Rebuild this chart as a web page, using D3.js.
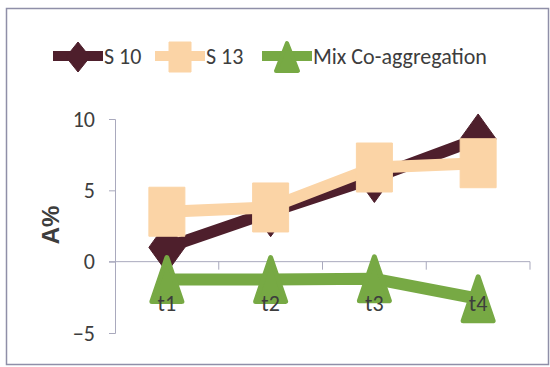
<!DOCTYPE html>
<html>
<head>
<meta charset="utf-8">
<script src="https://cdn.jsdelivr.net/npm/d3@7"></script>
<style>
  html, body { margin: 0; padding: 0; background: #fff; }
  svg { display: block; }
  text { font-family: Carlito, "Liberation Sans Narrow", "DejaVu Sans Condensed", sans-serif; fill: #3d3d3d; }
</style>
</head>
<body>
<svg id="chart" width="550" height="367"></svg>
<script>
// Time points and co-aggregation values (A%)
const categories = ["t1", "t2", "t3", "t4"];
const s10 = [1.0, 3.5, 5.9, 8.6];
const s13 = [3.5, 3.8, 6.6, 6.9];
const mix = [-1.25, -1.25, -1.2, -2.6];
const yTicks = [-5, 0, 5, 10];
const seriesNames = ["S 10", "S 13", "Mix Co-aggregation"];

const colors = ["#4e1f2c", "#fbd4a6", "#77a944"];
const shapes = ["diamond", "square", "triangle"];
const seriesValues = [s10, s13, mix];

const svg = d3.select("#chart");

// frame
svg.append("rect")
  .attr("x", 6.5).attr("y", 8.5)
  .attr("width", 542).attr("height", 356)
  .attr("fill", "#fff")
  .attr("stroke", "#8f8fa8").attr("stroke-width", 1.5);

const x = d3.scaleBand().domain(categories).range([115, 530]).padding(0);
const cx = d => x(d) + x.bandwidth() / 2;
const y = d3.scaleLinear().domain([-5, 10]).range([333, 119]);

// y axis
const yAxis = svg.append("g")
  .attr("transform", "translate(115,0)")
  .call(d3.axisLeft(y).tickValues(yTicks).tickSize(6).tickPadding(14).tickFormat(d3.format("d")));
yAxis.select(".domain").attr("stroke", "#a9a9bd").attr("stroke-width", 1);
yAxis.selectAll(".tick line").attr("stroke", "#a9a9bd");
yAxis.selectAll(".tick text")
  .attr("font-size", 22)
  .attr("font-family", 'Carlito, "Liberation Sans Narrow", "DejaVu Sans Condensed", sans-serif')
  .attr("fill", "#3d3d3d");

// x axis along zero
const xAxis = svg.append("g");
xAxis.append("line")
  .attr("x1", 109).attr("x2", x.range()[1])
  .attr("y1", y(0)).attr("y2", y(0))
  .attr("stroke", "#a9a9bd");
xAxis.selectAll("line.tk")
  .data(categories)
  .join("line")
  .attr("class", "tk")
  .attr("x1", d => x(d) + x.bandwidth()).attr("x2", d => x(d) + x.bandwidth())
  .attr("y1", y(0)).attr("y2", y(0) + 8)
  .attr("stroke", "#a9a9bd");

// y axis title
svg.append("text")
  .attr("transform", "translate(59,225) rotate(-90)")
  .attr("text-anchor", "middle")
  .attr("font-weight", "bold")
  .attr("font-size", 24)
  .style("font-family", '"Liberation Sans", Arial, sans-serif')
  .text("A%");

function markerPath(shape, w, h) {
  if (shape === "diamond") return `M0,${-h}L${w},0L0,${h}L${-w},0Z`;
  if (shape === "square") return `M${-w},${-h}H${w}V${h}H${-w}Z`;
  return `M0,${-h}L${w},${h}L${-w},${h}Z`;
}
const plotSize = {
  diamond: [18, 25],
  square: [18, 24.5],
  triangle: [15, 22]
};

const line = d3.line().x((d, i) => cx(categories[i])).y(d => y(d));

seriesValues.forEach((vals, si) => {
  const g = svg.append("g");
  g.append("path")
    .datum(vals)
    .attr("d", line)
    .attr("fill", "none")
    .attr("stroke", colors[si])
    .attr("stroke-width", 12)
    .attr("stroke-linejoin", "round");
  const [w, h] = plotSize[shapes[si]];
  g.selectAll("path.mk")
    .data(vals)
    .join("path")
    .attr("class", "mk")
    .attr("transform", (d, i) => `translate(${cx(categories[i])},${y(d)})`)
    .attr("d", markerPath(shapes[si], w, h))
    .attr("fill", colors[si])
    .attr("stroke", colors[si])
    .attr("stroke-width", shapes[si] === "triangle" ? 5 : 1)
    .attr("stroke-linejoin", "round");
});

// category labels
svg.selectAll("text.cat")
  .data(categories)
  .join("text")
  .attr("class", "cat")
  .attr("x", d => cx(d))
  .attr("y", 311)
  .attr("text-anchor", "middle")
  .attr("font-size", 22)
  .text(d => d);

// legend
const legendX = [53, 155, 262];
const legendSize = {
  diamond: [12, 15],
  square: [11, 15],
  triangle: [11, 14]
};
const legend = svg.append("g");
seriesNames.forEach((name, si) => {
  const lx = legendX[si];
  legend.append("line")
    .attr("x1", lx).attr("x2", lx + 50)
    .attr("y1", 56).attr("y2", 56)
    .attr("stroke", colors[si])
    .attr("stroke-width", 10)
    .attr("stroke-linecap", "butt");
  const [w, h] = legendSize[shapes[si]];
  legend.append("path")
    .attr("transform", `translate(${lx + 25},57)`)
    .attr("d", markerPath(shapes[si], w, h))
    .attr("fill", colors[si])
    .attr("stroke", colors[si])
    .attr("stroke-width", shapes[si] === "triangle" ? 4 : 1)
    .attr("stroke-linejoin", "round");
  legend.append("text")
    .attr("x", lx + 51)
    .attr("y", 64)
    .attr("font-size", 22)
    .text(name);
});
</script>
</body>
</html>
